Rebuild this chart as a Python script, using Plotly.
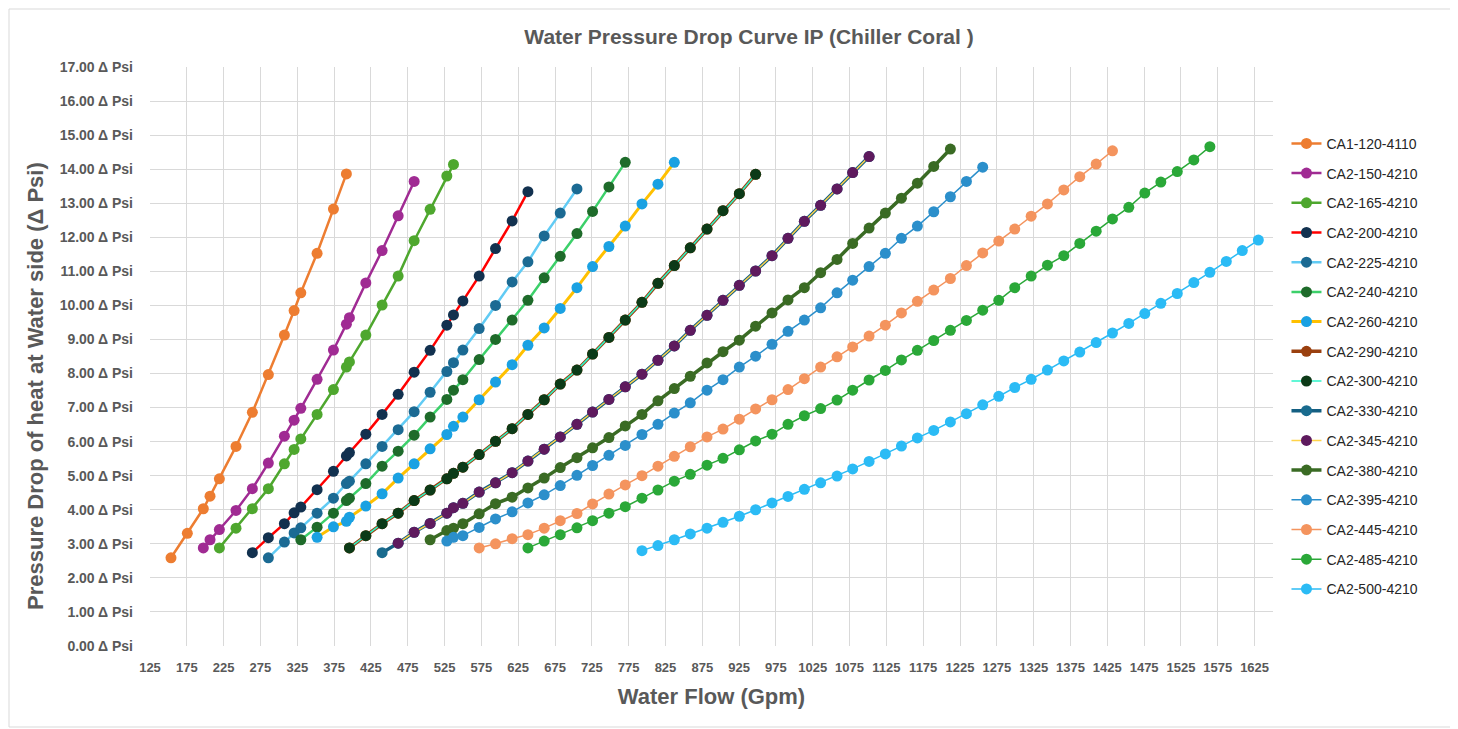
import plotly.graph_objects as go

# Shared flow grid (Gpm)
FLOW = [153.5, 175.7, 197.4, 206.5, 219.2, 241.8, 264.0, 285.7, 307.5, 320.7,
        329.8, 351.9, 374.1, 391.7, 395.8, 418.1, 440.2, 462.0, 483.7, 505.4,
        528.1, 537.1, 549.9, 572.0, 594.2, 616.8, 638.2, 660.3, 682.1, 704.8,
        726.0, 748.2, 770.4, 793.1, 814.8, 837.0, 858.7, 881.4, 903.1, 925.3,
        947.4, 969.7, 991.4, 1013.6, 1035.7, 1058.0, 1079.2, 1101.5, 1123.6, 1145.4,
        1167.1, 1189.3, 1211.9, 1233.7, 1255.8, 1277.6, 1299.3, 1321.6, 1343.7, 1365.9,
        1387.6, 1409.9, 1432.0, 1454.2, 1475.9, 1497.7, 1520.0, 1542.5, 1564.3, 1586.6,
        1608.3, 1630.1]

# Series names
NAMES = ["CA1-120-4110", "CA2-150-4210", "CA2-165-4210", "CA2-200-4210",
         "CA2-225-4210", "CA2-240-4210", "CA2-260-4210", "CA2-290-4210",
         "CA2-300-4210", "CA2-330-4210", "CA2-345-4210", "CA2-380-4210",
         "CA2-395-4210", "CA2-445-4210", "CA2-485-4210", "CA2-500-4210"]

# Index of first flow point for each series
START = [0, 2, 4, 6, 7, 10, 11, 14, 14, 16, 17, 19, 20, 23, 26, 33]

# Pressure drop values (Δ Psi)
DP_120 = [2.59, 3.31, 4.03, 4.40, 4.91, 5.86, 6.86, 7.97, 9.13, 9.85, 10.37, 11.53, 12.83, 13.86]
DP_150 = [2.88, 3.12, 3.42, 3.98, 4.62, 5.37, 6.16, 6.63, 6.98, 7.83, 8.69, 9.45, 9.64,
          10.66, 11.61, 12.63, 13.64]
DP_165 = [2.88, 3.46, 4.03, 4.62, 5.35, 5.77, 6.08, 6.80, 7.53, 8.19, 8.34, 9.13, 10.01,
          10.86, 11.90, 12.82, 13.80, 14.14]
DP_200 = [2.74, 3.18, 3.59, 3.91, 4.08, 4.59, 5.13, 5.58, 5.68, 6.22, 6.80, 7.39, 8.04,
          8.68, 9.42, 9.72, 10.13, 10.86, 11.67, 12.48, 13.34]
DP_225 = [2.59, 3.05, 3.32, 3.47, 3.90, 4.34, 4.77, 4.84, 5.35, 5.86, 6.35, 6.88, 7.45,
          8.06, 8.32, 8.69, 9.32, 10.00, 10.69, 11.28, 12.04, 12.71, 13.42]
DP_240 = [3.12, 3.49, 3.90, 4.27, 4.34, 4.77, 5.28, 5.72, 6.19, 6.72, 7.24, 7.51, 7.82,
          8.41, 9.00, 9.57, 10.15, 10.81, 11.44, 12.11, 12.76, 13.48, 14.20]
DP_260 = [3.19, 3.50, 3.66, 3.78, 4.11, 4.47, 4.93, 5.35, 5.79, 6.21, 6.45, 6.72, 7.23,
          7.75, 8.26, 8.83, 9.34, 9.91, 10.52, 11.14, 11.73, 12.33, 12.98, 13.56, 14.20]
DP_290 = [2.88, 3.24, 3.59, 3.90, 4.27, 4.58, 4.91, 5.07, 5.25, 5.62, 6.01, 6.38, 6.80,
          7.23, 7.69, 8.10, 8.57, 9.06, 9.57, 10.09, 10.65, 11.17, 11.69, 12.24, 12.78,
          13.28, 13.85]
DP_300 = [2.88, 3.24, 3.59, 3.90, 4.27, 4.58, 4.91, 5.07, 5.25, 5.62, 6.01, 6.38, 6.80,
          7.23, 7.69, 8.10, 8.57, 9.06, 9.57, 10.09, 10.65, 11.17, 11.69, 12.24, 12.78,
          13.28, 13.85]
DP_330 = [2.74, 3.02, 3.34, 3.60, 3.90, 4.06, 4.19, 4.52, 4.79, 5.09, 5.43, 5.78, 6.14,
          6.51, 6.87, 7.24, 7.61, 7.98, 8.39, 8.81, 9.27, 9.71, 10.15, 10.59, 11.01,
          11.46, 11.97, 12.47, 12.94, 13.42, 13.90, 14.37]
DP_345 = [3.02, 3.34, 3.60, 3.90, 4.06, 4.19, 4.52, 4.79, 5.09, 5.43, 5.78, 6.14,
          6.51, 6.87, 7.24, 7.61, 7.98, 8.39, 8.81, 9.27, 9.71, 10.15, 10.59, 11.01,
          11.46, 11.97, 12.47, 12.94, 13.42, 13.90, 14.37]
DP_380 = [3.12, 3.39, 3.46, 3.59, 3.88, 4.18, 4.37, 4.64, 4.93, 5.24, 5.53, 5.82, 6.12,
          6.46, 6.80, 7.20, 7.56, 7.92, 8.31, 8.64, 8.98, 9.39, 9.78, 10.16, 10.52,
          10.96, 11.35, 11.82, 12.27, 12.71, 13.15, 13.59, 14.08, 14.59]
DP_395 = [3.08, 3.19, 3.24, 3.48, 3.73, 3.94, 4.20, 4.44, 4.71, 5.01, 5.30, 5.60, 5.89,
          6.21, 6.51, 6.84, 7.14, 7.51, 7.82, 8.19, 8.51, 8.86, 9.24, 9.57, 9.93,
          10.37, 10.74, 11.14, 11.53, 11.97, 12.33, 12.75, 13.19, 13.64, 14.06]
DP_445 = [2.88, 3.00, 3.15, 3.27, 3.46, 3.68, 3.89, 4.17, 4.46, 4.73, 5.00, 5.28, 5.57,
          5.85, 6.14, 6.37, 6.66, 6.96, 7.23, 7.53, 7.85, 8.19, 8.49, 8.78, 9.10, 9.42,
          9.78, 10.12, 10.45, 10.79, 11.17, 11.54, 11.89, 12.24, 12.62, 12.98, 13.39,
          13.78, 14.15, 14.54]
DP_485 = [2.88, 3.08, 3.27, 3.47, 3.68, 3.90, 4.09, 4.34, 4.58, 4.84, 5.04, 5.31, 5.51,
          5.76, 6.02, 6.22, 6.51, 6.76, 6.97, 7.22, 7.51, 7.81, 8.09, 8.40, 8.68, 8.97,
          9.27, 9.56, 9.86, 10.15, 10.52, 10.86, 11.18, 11.46, 11.82, 12.18, 12.54,
          12.88, 13.30, 13.62, 13.93, 14.27, 14.66]
DP_500 = [2.80, 2.95, 3.12, 3.29, 3.46, 3.63, 3.81, 4.00, 4.20, 4.39, 4.60, 4.79, 4.99,
          5.20, 5.42, 5.64, 5.87, 6.11, 6.33, 6.58, 6.82, 7.08, 7.33, 7.59, 7.83, 8.10,
          8.37, 8.63, 8.91, 9.19, 9.47, 9.76, 10.06, 10.35, 10.67, 10.97, 11.29, 11.61,
          11.92]

VALUES = [DP_120, DP_150, DP_165, DP_200, DP_225, DP_240, DP_260, DP_290,
          DP_300, DP_330, DP_345, DP_380, DP_395, DP_445, DP_485, DP_500]

# Styles: (line colour, line width, marker colour)
STYLES = [
    ("#ED7D31", 2.5, "#ED7D31"),
    ("#A02B93", 2.5, "#A02B93"),
    ("#4EA72E", 2.5, "#4EA72E"),
    ("#FF0000", 2.5, "#12314F"),
    ("#61CBF4", 2.5, "#1B6A93"),
    ("#3CD06A", 2.5, "#1E6B2A"),
    ("#FFC000", 3.0, "#1AA1E2"),
    ("#9A400F", 3.5, "#9A400F"),
    ("#2EF5C9", 1.5, "#0C3A17"),
    ("#145F82", 3.5, "#196B8E"),
    ("#FFD34A", 1.5, "#5E1A5E"),
    ("#3A6B24", 3.5, "#3A6B24"),
    ("#2B8FCB", 1.5, "#2B8FCB"),
    ("#F4945E", 1.5, "#F4945E"),
    ("#2AA838", 1.5, "#2AA838"),
    ("#2BBBF5", 1.5, "#2BBBF5"),
]

fig = go.Figure()
for i, name in enumerate(NAMES):
    ys = VALUES[i]
    xs = FLOW[START[i]:START[i] + len(ys)]
    lc, lw, mc = STYLES[i]
    fig.add_trace(go.Scatter(
        x=xs, y=ys, name=name, mode="lines+markers",
        legendgroup=name,
        line=dict(color=lc, width=lw),
        marker=dict(color=mc, size=11),
    ))

GRAY = "#595959"
BASE = "Liberation Sans, Arial, sans-serif"
TITLEFONT = "Liberation Sans Narrow, Arial Narrow, Liberation Sans, sans-serif"

# The page body has an 8px default margin, so the figure is offset by 8px.
OFF = 8
W, H = 1458 - OFF, 729 - OFF

fig.update_layout(
    width=W, height=H,
    margin=dict(l=150 - OFF, r=185, t=67 - OFF, b=83),
    paper_bgcolor="white", plot_bgcolor="white",
    title=dict(text="<b>Water Pressure Drop Curve IP (Chiller Coral )</b>",
               x=(749 - OFF) / W, xanchor="center", xref="container",
               y=1 - (37 - OFF) / H, yanchor="middle", yref="container",
               font=dict(family=TITLEFONT, size=21, color=GRAY)),
    xaxis=dict(range=[125, 1650], tick0=125, dtick=50, showgrid=True,
               gridcolor="#d9d9d9", gridwidth=1, zeroline=False, showline=False,
               tickfont=dict(family=BASE, size=13, color=GRAY, weight="bold"),
               ticklabelstandoff=12,
               title=dict(text="<b>Water Flow (Gpm)</b>", standoff=14,
                          font=dict(family=TITLEFONT, size=22, color=GRAY))),
    yaxis=dict(range=[0, 17], tick0=0, dtick=1, tickformat=".2f", ticksuffix=" Δ Psi",
               showgrid=True, gridcolor="#d9d9d9", gridwidth=1, zeroline=False,
               showline=False,
               tickfont=dict(family=BASE, size=14, color=GRAY, weight="bold"),
               ticklabelstandoff=16),
    legend=dict(x=1.012, xanchor="left", y=0.895, yanchor="top",
                font=dict(family=BASE, size=14, color="#262626"),
                tracegroupgap=8.5, bgcolor="rgba(0,0,0,0)"),
    showlegend=True,
    hovermode="closest",
)

fig.add_annotation(text="<b>Pressure Drop of heat at Water side (Δ Psi)</b>",
                   xref="paper", yref="paper", x=(35 - 150) / 1123, y=(646 - 386) / 579,
                   xanchor="center", yanchor="middle", textangle=-90, showarrow=False,
                   font=dict(family=TITLEFONT, size=22, color=GRAY))

# Chart-area border (kept inside the visible figure area)
fig.add_shape(type="rect", xref="paper", yref="paper",
              x0=(9 - 150) / 1123, x1=(1455 - 150) / 1123,
              y0=(646 - 727) / 579, y1=(646 - 9) / 579,
              line=dict(color="#d9d9d9", width=1), fillcolor="rgba(0,0,0,0)", layer="below")

fig.write_html("out.html")
